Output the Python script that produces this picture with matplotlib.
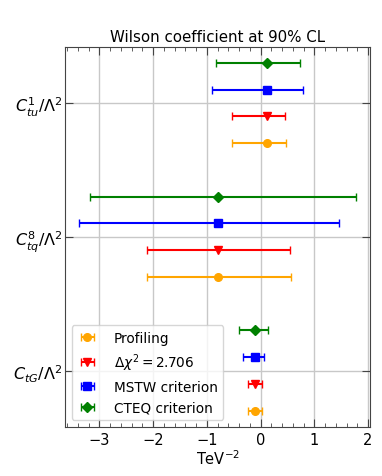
import numpy as np
import matplotlib.pyplot as plt

# coefficients (bottom to top)
coeffs = [r'$C_{tG}/\Lambda^2$', r'$C_{tq}^8/\Lambda^2$', r'$C_{tu}^1/\Lambda^2$']

# central values per coefficient
center = [-0.11, -0.80, 0.12]

# intervals [low, high] per method, per coefficient
profiling = [[-0.24, 0.03], [-2.12, 0.57], [-0.54, 0.47]]
dchi2 = [[-0.24, 0.02], [-2.12, 0.54], [-0.54, 0.46]]
mstw = [[-0.33, 0.07], [-3.38, 1.46], [-0.90, 0.79]]
cteq = [[-0.41, 0.14], [-3.18, 1.77], [-0.83, 0.74]]

methods = [
    ('Profiling', profiling, 'orange', 'o', -0.3),
    (r'$\Delta\chi^2 = 2.706$', dchi2, 'red', 'v', -0.1),
    ('MSTW criterion', mstw, 'blue', 's', 0.1),
    ('CTEQ criterion', cteq, 'green', 'D', 0.3),
]

fig = plt.figure(figsize=(3.82, 4.77), dpi=100)
ax = fig.add_axes([0.170, 0.103, 0.799, 0.797])

ypos = np.arange(len(coeffs))
c = np.array(center)
for label, iv, col, mk, off in methods:
    iv = np.array(iv)
    err = [c - iv[:, 0], iv[:, 1] - c]
    ax.errorbar(c, ypos + off, xerr=err, fmt=mk, color=col, ecolor=col,
                capsize=3, markersize=5.5, elinewidth=1.5, label=label)

ax.set_xlim(-3.64, 2.04)
ax.set_ylim(-0.42, 2.42)
ax.set_yticks(ypos)
ax.set_yticklabels(coeffs, fontsize=11.5)
ax.set_xticks([-3, -2, -1, 0, 1, 2])
ax.set_xticks(np.arange(-3.6, 2.01, 0.2), minor=True)
ax.tick_params(axis='x', which='major', direction='in', top=True, length=6, labelsize=10.5, color='#444444')
ax.tick_params(axis='x', which='minor', direction='in', top=True, length=3, color='#444444')
ax.tick_params(axis='y', which='major', direction='in', right=True, length=6, pad=2, color='#444444')
ax.grid(True, which='major', color='#c8c8c8', linewidth=1)
ax.set_axisbelow(True)
for s in ax.spines.values():
    s.set_color('#444444')
ax.set_xlabel(r'TeV$^{-2}$', fontsize=10.5, labelpad=1)
ax.set_title('Wilson coefficient at 90% CL', fontsize=10.8, pad=4)
ax.legend(loc='lower left', fontsize=9.8, handlelength=1.5, handletextpad=1.2)

fig.savefig('out.png', dpi=100)
